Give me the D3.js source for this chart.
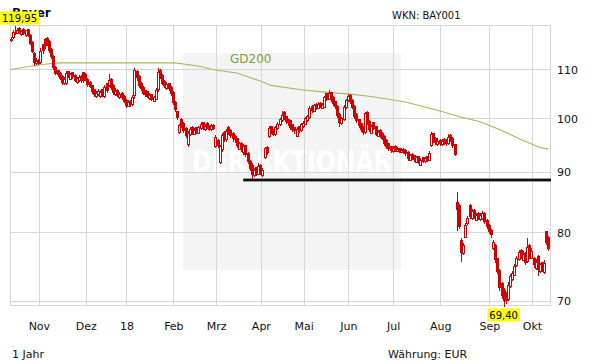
<!doctype html>
<html lang="de">
<head>
<meta charset="utf-8">
<title>Bayer</title>
<script src="https://d3js.org/d3.v7.min.js"></script>
<style>
  body { margin: 0; background: #fff; }
  text { font-family: "DejaVu Sans", Verdana, sans-serif; }
</style>
</head>
<body>
<svg width="611" height="364"></svg>
<script>
// month ticks (trading-day index of the first day of each month)
var months = ["Nov", "Dez", "18", "Feb", "Mrz", "Apr", "Mai", "Jun", "Jul", "Aug", "Sep", "Okt"];
var monthStart = [14, 36, 55, 77, 97, 118, 138, 159, 180, 202, 225, 245];
var yTicks = [70, 80, 90, 100, 110];

// daily candles [open, high, low, close]
var candles = [
  [116.5,117.2,116.4,116.9],[117.2,118.8,117.0,118.4],[118.2,119.95,118.0,118.5],[118.2,119.4,118.1,119.0],
  [119.4,119.5,118.2,118.4],[117.9,119.0,117.8,118.7],[119.2,119.3,118.0,118.2],[117.7,119.0,117.6,118.8],
  [119.1,119.2,117.5,117.8],[117.8,118.0,115.6,116.0],[116.1,116.3,113.8,114.2],[113.6,113.8,111.0,111.6],
  [111.4,112.5,111.3,112.0],[112.2,112.3,111.2,111.5],[111.8,114.8,111.5,114.2],[115.6,115.8,113.6,114.4],
  [116.8,117.0,114.8,115.4],[117.1,117.3,115.5,116.0],[116.4,116.6,114.0,114.3],[114.6,114.8,112.5,113.0],
  [113.0,113.3,110.2,110.6],[110.7,110.9,109.0,109.4],[109.9,110.0,108.6,109.0],[109.4,109.5,108.0,108.3],
  [108.6,108.8,107.0,107.4],[107.1,108.4,107.0,108.0],[107.2,109.7,107.0,109.4],[109.7,109.8,108.4,108.7],
  [108.1,109.4,108.0,109.0],[109.5,109.6,108.3,108.6],[108.9,109.0,107.6,107.9],[107.4,108.5,107.3,108.2],
  [107.8,108.9,107.7,108.5],[108.7,108.8,107.5,107.8],[109.5,109.6,107.5,107.8],[109.2,109.4,107.8,108.0],
  [108.1,108.2,106.6,106.9],[107.5,107.6,106.3,106.6],[106.7,106.8,105.2,105.5],[105.9,106.0,104.6,104.9],
  [104.5,105.5,104.4,105.1],[104.9,105.9,104.8,105.6],[104.5,105.8,104.4,105.3],[105.9,106.0,104.6,104.9],
  [104.5,106.7,104.3,106.4],[107.1,107.3,105.4,105.8],[106.7,109.0,106.5,107.9],[108.0,108.2,106.0,106.4],
  [106.8,106.9,105.0,105.4],[104.9,106.2,104.8,105.6],[105.8,105.9,104.5,104.8],[104.3,105.4,104.2,105.0],
  [105.2,105.3,104.0,104.3],[104.6,104.7,103.2,103.5],[103.7,103.8,102.3,102.7],[102.5,103.6,102.4,103.2],
  [103.5,103.6,102.5,102.9],[102.8,104.8,102.6,104.4],[104.8,110.3,104.2,109.9],[109.8,110.0,107.8,108.4],
  [108.6,108.8,106.4,106.8],[107.3,107.5,105.8,106.2],[106.4,106.5,104.9,105.2],[105.7,105.8,104.6,105.0],
  [105.5,105.6,104.3,104.6],[104.1,105.2,104.0,104.8],[105.0,105.0,103.6,103.9],[103.5,104.6,103.4,104.3],
  [104.0,106.2,103.8,105.8],[105.9,110.4,105.6,109.6],[110.0,110.2,108.3,108.7],[108.8,109.0,107.0,107.3],
  [107.7,107.8,106.4,106.7],[106.1,107.4,106.0,106.9],[107.1,107.2,105.8,106.1],[106.4,106.6,104.8,105.2],
  [105.3,105.6,102.8,103.2],[103.3,103.4,101.5,101.9],[101.4,101.5,99.9,100.3],[97.4,99.0,97.2,98.8],
  [100.0,100.2,98.4,98.6],[99.2,99.3,97.5,97.8],[98.2,98.3,96.5,96.8],[95.2,97.6,94.8,97.3],
  [97.0,98.4,96.8,98.0],[98.4,98.5,97.0,97.3],[97.1,98.2,97.0,97.8],[98.3,98.4,97.2,97.5],
  [97.3,98.6,97.2,98.3],[98.1,99.3,98.0,99.0],[99.3,99.4,98.0,98.3],[97.9,98.9,97.8,98.6],
  [99.2,99.3,98.2,98.4],[98.7,98.8,97.7,98.0],[97.9,98.9,97.8,98.6],[98.8,98.9,97.9,98.2],
  [94.8,96.9,94.6,96.5],[95.9,96.0,94.6,95.0],[91.9,95.0,91.6,94.7],[94.2,97.3,93.8,96.8],
  [97.5,97.6,95.8,96.1],[96.0,98.0,95.8,97.6],[98.4,98.6,97.0,97.4],[97.8,97.9,96.5,96.8],
  [97.3,97.4,95.8,96.2],[96.7,96.8,95.5,96.0],[96.2,96.3,94.6,94.9],[94.3,95.6,94.2,95.3],
  [95.4,95.5,93.9,94.2],[93.6,95.2,93.4,94.8],[94.9,95.0,93.0,93.4],[93.5,93.6,91.6,92.0],
  [92.1,92.2,90.4,90.8],[91.4,91.6,89.1,89.7],[89.5,90.8,89.4,90.4],[90.9,91.0,89.6,89.9],
  [89.8,91.6,89.7,91.2],[91.4,91.5,89.8,90.2],[89.5,90.8,89.3,90.5],[92.7,94.6,92.5,94.4],
  [94.6,94.7,93.3,93.6],[96.7,98.6,96.5,98.2],[98.5,98.6,97.2,97.6],[97.9,98.0,96.8,97.1],
  [97.0,98.6,96.9,98.3],[98.1,99.4,98.0,99.0],[98.9,100.2,98.8,99.9],[99.8,101.4,99.6,100.8],
  [101.3,101.4,100.0,100.3],[100.5,100.6,99.2,99.5],[99.9,100.0,98.8,99.3],[99.7,99.8,98.0,98.4],
  [98.9,99.0,97.6,98.0],[98.3,98.4,97.3,97.7],[96.7,98.3,96.6,98.0],[98.5,98.6,97.5,97.9],
  [97.7,99.2,97.6,98.9],[98.5,99.6,98.4,99.1],[99.0,100.4,98.9,100.1],[99.7,100.8,99.6,100.5],
  [100.4,102.4,100.2,102.0],[102.5,102.6,101.2,101.6],[101.5,102.8,101.4,102.6],[102.9,103.0,101.8,102.2],
  [102.1,103.2,102.0,102.8],[103.1,103.2,102.2,102.5],[102.1,103.0,102.0,102.7],[102.3,104.6,102.2,104.3],
  [105.1,105.2,103.7,104.0],[103.9,105.7,103.8,105.2],[105.3,105.4,103.5,103.8],[104.4,104.6,102.6,103.0],
  [103.4,103.5,102.0,102.4],[102.5,102.6,100.4,100.8],[100.9,101.0,98.6,99.4],[99.1,100.4,99.0,100.2],
  [100.0,102.6,99.8,102.3],[102.2,104.0,102.0,103.7],[103.6,105.0,103.4,104.6],[104.8,104.9,103.0,103.4],
  [103.7,103.8,102.0,102.3],[102.5,102.6,100.2,100.6],[100.9,101.0,99.4,99.7],[99.9,100.0,98.4,98.8],
  [99.1,99.2,97.6,98.0],[98.4,98.5,97.0,97.4],[97.5,101.3,97.2,101.0],[101.3,101.4,99.0,99.3],
  [99.5,99.7,97.6,97.9],[97.3,98.8,97.2,98.5],[99.3,99.4,98.0,98.2],[98.5,98.6,96.8,97.1],
  [96.7,97.8,96.6,97.5],[97.8,97.9,96.5,96.8],[97.3,97.4,96.0,96.3],[96.7,96.8,95.0,95.4],
  [95.9,96.0,94.4,94.8],[95.3,95.4,94.0,94.4],[94.7,94.8,93.6,94.0],[93.8,94.8,93.7,94.5],
  [94.8,94.9,93.8,94.1],[93.9,94.6,93.8,94.3],[94.4,94.5,93.6,93.9],[93.7,94.4,93.6,94.1],
  [94.3,94.4,93.5,93.8],[94.1,94.2,93.2,93.5],[93.7,93.8,92.3,92.6],[92.3,93.4,92.2,93.1],
  [93.4,93.5,92.4,92.8],[93.1,93.2,92.0,92.4],[91.9,93.0,91.8,92.7],[92.9,93.0,91.6,91.9],
  [91.4,92.6,91.3,92.3],[92.7,92.8,91.8,92.1],[92.0,92.8,91.9,92.6],[92.9,93.0,92.1,92.3],
  [92.3,93.8,92.2,93.5],[95.0,97.4,94.8,97.0],[97.2,97.3,95.6,95.9],[96.3,96.4,95.2,95.5],
  [95.1,96.2,95.0,95.8],[95.9,96.0,95.0,95.3],[95.1,96.1,95.0,95.8],[96.1,96.2,95.2,95.6],
  [96.0,96.1,95.0,95.4],[95.3,97.0,95.2,96.4],[96.9,97.0,95.8,96.2],[96.3,96.4,94.6,95.0],
  [95.1,95.2,93.1,93.4],[84.9,86.6,80.5,83.8],[84.4,84.6,80.8,81.0],[78.9,79.2,75.7,77.1],
  [76.9,78.4,76.8,78.1],[79.4,81.6,79.3,81.3],[81.5,82.7,81.4,82.4],[84.4,84.6,82.4,82.7],
  [82.3,83.8,82.2,83.5],[83.7,83.8,82.4,82.7],[82.1,83.2,82.0,82.9],[83.2,83.3,82.2,82.5],
  [82.2,83.2,82.1,82.8],[82.3,83.4,82.2,83.1],[83.2,83.3,81.6,81.9],[82.1,82.2,80.8,81.0],
  [81.3,81.4,80.0,80.3],[80.5,80.6,79.4,79.8],[77.6,78.9,77.5,78.6],[78.1,78.2,75.6,76.0],
  [76.1,76.2,73.9,74.2],[74.4,74.5,71.6,72.0],[72.5,72.6,70.4,70.9],[71.6,71.8,69.4,70.2],
  [71.1,71.2,69.8,70.2],[70.3,72.6,70.2,72.3],[72.1,73.8,72.0,73.5],[73.1,74.3,73.0,74.0],
  [73.7,75.2,73.6,75.0],[75.1,76.4,75.0,76.1],[76.0,77.4,75.9,77.0],[77.4,77.5,76.1,76.4],
  [75.9,77.2,75.8,76.7],[76.9,77.0,75.3,75.6],[75.7,79.2,75.6,77.8],[78.1,78.2,76.2,76.6],
  [76.2,77.6,76.1,77.2],[76.2,76.3,74.8,75.2],[74.7,76.0,74.6,75.6],[76.5,76.6,73.6,74.6],
  [74.2,75.4,74.1,75.2],[75.5,75.6,74.3,74.6],[74.1,75.9,74.0,75.4],[80.2,80.3,78.2,78.5],
  [79.4,79.5,77.4,77.6]
];

// 200-day average [index, value]
var gd200 = [
  [0,110.0],[4,110.4],[9,110.7],[14,111.1],[18,111.3],[23,111.5],[77,111.5],[82,111.2],
  [89,110.7],[95,110.0],[106,109.3],[117,107.6],[122,106.7],[136,105.8],[150,105.2],[159,104.9],
  [167,104.5],[178,103.8],[186,103.2],[194,102.3],[202,101.4],[210,100.4],[220,99.4],[229,97.9],
  [239,96.0],[248,94.5],[252,94.2]
];

var supportLevel = 88.7;
var supportFrom = 109.5;
var hiText = "119,95", loText = "69,40";

var svg = d3.select("svg");
var red = "#d20000";
var grid = "#d6d6d6";

var x = d3.scaleLinear().domain([0, 254]).range([9.5, 551.7]);
var y = d3.scaleLog().domain([69.40, 119.95]).range([305.5, 25.5]);
var px = function(v) { return Math.floor(v) + 0.5; };

// watermark
svg.append("rect").attr("x", 183).attr("y", 53).attr("width", 218).attr("height", 217)
  .attr("fill", "#f4f4f4");
svg.append("text").attr("x", 192).attr("y", 172)
  .attr("textLength", 200).attr("lengthAdjust", "spacingAndGlyphs")
  .style("font-size", "30px").style("font-weight", "bold").attr("fill", "#fff")
  .text("DER AKTIONÄR");

// grid
svg.append("g").selectAll("line").data(yTicks).enter().append("line")
  .attr("x1", 10).attr("x2", 551)
  .attr("y1", function(d) { return px(y(d)); }).attr("y2", function(d) { return px(y(d)); })
  .attr("stroke", grid);
svg.append("g").selectAll("line").data(monthStart).enter().append("line")
  .attr("x1", function(d) { return px(x(d)); }).attr("x2", function(d) { return px(x(d)); })
  .attr("y1", 25).attr("y2", 306)
  .attr("stroke", grid);
svg.append("rect").attr("x", 10.5).attr("y", 25.5).attr("width", 540).attr("height", 280)
  .attr("fill", "none").attr("stroke", grid);

// y labels
svg.append("g").selectAll("text").data(yTicks).enter().append("text")
  .attr("x", 557).attr("y", function(d) { return y(d) + 4; })
  .style("font-size", "11px").attr("fill", "#111")
  .text(function(d) { return d; });

// month labels
svg.append("g").selectAll("text").data(months).enter().append("text")
  .attr("x", function(d, i) { return x(monthStart[i]); }).attr("y", 330)
  .attr("text-anchor", "middle")
  .style("font-size", "11px").attr("fill", "#111")
  .text(function(d) { return d; });

// GD200
svg.append("path").datum(gd200)
  .attr("d", d3.line().x(function(d) { return x(d[0] + 0.5); }).y(function(d) { return y(d[1]); }))
  .attr("fill", "none").attr("stroke", "#9dbb5c").attr("stroke-width", 1.1);
svg.append("text").attr("x", 230).attr("y", 62.5)
  .style("font-size", "12px").attr("fill", "#7f9c33").text("GD200");

// support line
svg.append("line").attr("x1", x(supportFrom)).attr("x2", 551)
  .attr("y1", y(supportLevel)).attr("y2", y(supportLevel))
  .attr("stroke", "#999").attr("stroke-width", 4);
svg.append("line").attr("x1", x(supportFrom)).attr("x2", 551)
  .attr("y1", y(supportLevel)).attr("y2", y(supportLevel))
  .attr("stroke", "#111").attr("stroke-width", 2);

// candles
var cg = svg.append("g");
candles.forEach(function(c, i) {
  var cx = Math.round(x(i + 0.5));
  var o = c[0], h = c[1], l = c[2], cl = c[3];
  cg.append("line").attr("x1", cx + 0.5).attr("x2", cx + 0.5)
    .attr("y1", Math.round(y(h))).attr("y2", Math.round(y(l)) + 1)
    .attr("stroke", red);
  var top = Math.round(y(Math.max(o, cl))), bot = Math.round(y(Math.min(o, cl)));
  if (cl > o && bot - top >= 2) {
    cg.append("rect").attr("x", cx - 0.5).attr("y", top + 0.5)
      .attr("width", 2).attr("height", bot - top)
      .attr("fill", "#fff").attr("stroke", red);
  } else {
    cg.append("rect").attr("x", cx - 1).attr("y", top)
      .attr("width", 3).attr("height", Math.max(1, bot - top + 1))
      .attr("fill", red);
  }
});

// title, high / low labels
svg.append("text").attr("x", 12).attr("y", 17)
  .style("font-size", "12px").style("font-weight", "bold").attr("fill", "#111").text("Bayer");
svg.append("text").attr("x", 392).attr("y", 18.5)
  .style("font-size", "10px").attr("fill", "#111").text("WKN: BAY001");

var hiIdx = d3.maxIndex(candles, function(d) { return d[1]; });
var loIdx = d3.minIndex(candles, function(d) { return d[2]; });

function tag(txt, cx, top) {
  var t = svg.append("text").attr("y", top + 10).style("font-size", "10px").attr("fill", "#000").text(txt);
  var w = t.node().getComputedTextLength() + 4;
  var left = Math.max(0, cx - w / 2);
  svg.insert("rect", function() { return t.node(); })
    .attr("x", left).attr("y", top).attr("width", w).attr("height", 13).attr("fill", "#ffff00");
  t.attr("x", left + 2);
}
tag(hiText, x(hiIdx + 0.5), y(candles[hiIdx][1]) - 14);
tag(loText, x(loIdx + 0.5), y(candles[loIdx][2]) + 3);

svg.append("text").attr("x", 12).attr("y", 358)
  .style("font-size", "11px").attr("fill", "#111").text("1 Jahr");
svg.append("text").attr("x", 388).attr("y", 358)
  .style("font-size", "11px").attr("fill", "#111").text("Währung: EUR");
</script>
</body>
</html>
